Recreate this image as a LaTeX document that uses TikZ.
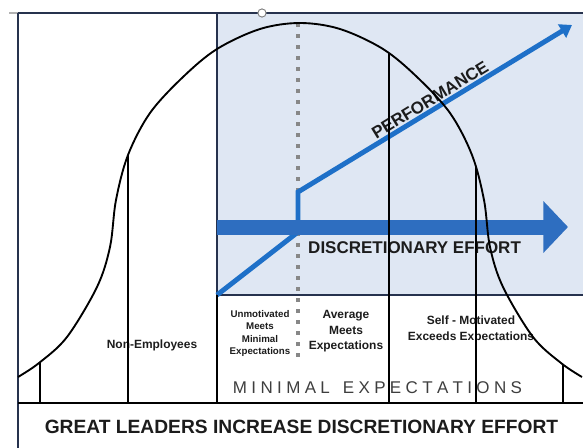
\documentclass[tikz,border=0pt]{standalone}
\usepackage{fontspec}
\setmainfont{Liberation Sans}
\usepackage{xcolor}
\usepackage{tikz}
\usetikzlibrary{positioning,arrows.meta,intersections}
\definecolor{panelblue}{RGB}{223,231,243}
\definecolor{paneledge}{RGB}{38,50,78}
\definecolor{perfblue}{RGB}{30,112,200}
\definecolor{effortblue}{RGB}{46,110,192}
\definecolor{dotgray}{RGB}{135,135,135}
\definecolor{labelink}{RGB}{28,28,28}

\begin{document}
\begin{tikzpicture}[x=0.03cm, y=-0.03cm,
  edge/.style={paneledge, line width=1.3pt},
  divider/.style={black, line width=1.3pt},
  bell/.style={black, line width=1.6pt},
  headline/.style={labelink, font=\bfseries\fontsize{14.5}{17}\selectfont, inner sep=0pt},
  collabel/.style={labelink, font=\bfseries\fontsize{10.2}{13}\selectfont, align=center, inner sep=0pt},
  smalllabel/.style={labelink, font=\bfseries\fontsize{8.3}{10.6}\selectfont, align=center, inner sep=0pt}]
\useasboundingbox (0,0) rectangle (583,448);
\fill[panelblue] (217,13) rectangle (583,295);
\draw[gray!60, line width=1pt] (9,13) -- (18,13);
\draw[edge] (18,13) -- (583,13);
\draw[edge] (18,13) -- (18,448);
\draw[edge] (217,13) -- (217,295) -- (583,295);
\draw[dotgray, line width=3.4pt, dash pattern=on 3.4pt off 6pt] (298,23) -- (298,363);

\coordinate (perfstart) at (217,295);
\coordinate (perfknee) at (298,232);
\coordinate (perfstep) at (298,192);
\coordinate (perftip) at (572,25);
\draw[perfblue, line width=4.2pt, -{Triangle[length=10pt,width=13pt]}] (perfstart) -- (perfknee) -- (perfstep) -- (perftip);
\coordinate (effortstart) at (217,227);
\coordinate (efforttip) at (568,227);
\draw[effortblue, line width=12.8pt, -{Triangle[length=21pt,width=43pt]}] (effortstart) -- (efforttip);

\node[headline, anchor=base west] (effort) at (308,253) {DISCRETIONARY EFFORT};
\node[headline, rotate=31.5] (perf) at (430,100) {PERFORMANCE};
\node[labelink!85, font=\fontsize{14.5}{17}\selectfont, anchor=base, inner sep=0pt] (minimal) at (377.5,393)
  {\makebox[8.67cm]{M\hfill I\hfill N\hfill I\hfill M\hfill A\hfill L\hfill\hfill\hfill E\hfill X\hfill P\hfill E\hfill C\hfill T\hfill A\hfill T\hfill I\hfill O\hfill N\hfill S}};
\node[collabel] (nonemp) at (152,345) {Non-Employees};
\node[smalllabel] (unmot) at (260,333.5) {Unmotivated\\Meets\\Minimal\\Expectations};
\node[collabel, font=\bfseries\fontsize{10.2}{13.2}\selectfont] (average) at (346,331.5) {Average\\Meets\\Expectations};
\node[collabel] (selfmot) at (471,329.5) {Self - Motivated\\Exceeds Expectations};
\node[labelink, font=\bfseries\fontsize{16.4}{19}\selectfont, anchor=base, inner sep=0pt] (leaders) at (301.5,433)
  {GREAT LEADERS INCREASE DISCRETIONARY EFFORT};

\draw[bell, name path=bell] plot[smooth, tension=0.55] coordinates {(18,377) (39,363) (67,337) (97,287) (110,247) (116,200) (128,155) (150,113) (183,77) (217,49) (260,29) (300,23) (340,29) (383,49) (417,77) (450,113) (472,155) (484,200) (490,247) (503,287) (533,337) (561,363) (582,377)};
\foreach \col in {40,128,389,476,563}
{
  \path[name path=cut] (\col,0) -- (\col,403);
  \draw[divider, name intersections={of=bell and cut}] (intersection-1) -- (\col,403);
}
\draw[divider] (217,295) -- (217,403);
\draw[divider] (18,403) -- (583,403);
\filldraw[fill=white, draw=gray, line width=0.8pt] (262,13) circle (3.5pt);
\end{tikzpicture}
\end{document}
